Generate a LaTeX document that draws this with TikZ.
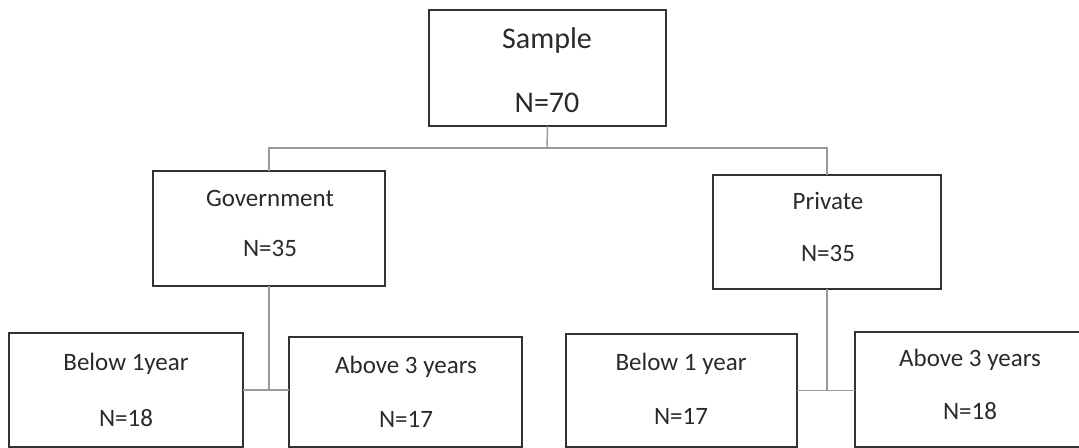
\documentclass[tikz,border=0pt]{standalone}
\usepackage{fontspec}
\setmainfont{Carlito}
\begin{document}
\begin{tikzpicture}[x=0.75pt,y=-0.75pt,
  box/.style={draw=boxcol,line width=1.6pt,inner sep=0pt,outer sep=0pt,anchor=north west,fill=white},
  conn/.style={draw=conncol,line width=1.1pt},
  big/.style={text=txtcol,inner sep=0pt,anchor=base,font=\fontsize{22.5}{27}\selectfont},
  lbl/.style={text=txtcol,inner sep=0pt,anchor=base,font=\fontsize{18.75}{22}\selectfont}]
\definecolor{boxcol}{HTML}{333333}
\definecolor{conncol}{HTML}{9A9A9A}
\definecolor{txtcol}{HTML}{2A2A2A}
\useasboundingbox (0,0) rectangle (1079,448);
\clip (0,0) rectangle (1079,448);
% boxes
\node[box,minimum width=177.75pt,minimum height=87pt] (sample) at (429,10) {};
\node[box,minimum width=174pt,minimum height=86.25pt] (gov) at (153,171) {};
\node[box,minimum width=171pt,minimum height=85.5pt] (priv) at (713,175) {};
\node[box,minimum width=175.5pt,minimum height=85.5pt] (lb1) at (9,333) {};
\node[box,minimum width=174.75pt,minimum height=82.5pt] (la3) at (289,337) {};
\node[box,minimum width=173.25pt,minimum height=84.75pt] (rb1) at (566,334) {};
\node[box,minimum width=176.25pt,minimum height=86.25pt] (ra3) at (855,332) {};
% connectors
\coordinate (j0) at (547,148);
\draw[conn] (sample.south) -- (j0);
\draw[conn] (gov.north) |- (j0) -| (priv.north);
\draw[conn] (gov.south) -- (gov.south |- lb1.east);
\draw[conn] (lb1.east) -- (la3.west |- lb1.east);
\draw[conn] (priv.south) -- (priv.south |- rb1.east);
\draw[conn] (rb1.east) -- (ra3.west |- rb1.east);
% texts
\node[big] (t1) at (547,49) {Sample};
\node[big] (t2) at (547,113) {N=70};
\node[lbl] (t3) at (270,207) {Government};
\node[lbl] (t4) at (270,257) {N=35};
\node[lbl] (t5) at (828,210) {Private};
\node[lbl] (t6) at (828,262) {N=35};
\node[lbl] (t7) at (126,371) {Below 1year};
\node[lbl] (t8) at (126,427) {N=18};
\node[lbl] (t9) at (406,374) {Above 3 years};
\node[lbl] (t10) at (406,428) {N=17};
\node[lbl] (t11) at (681,371) {Below 1 year};
\node[lbl] (t12) at (681,425) {N=17};
\node[lbl] (t13) at (970,367) {Above 3 years};
\node[lbl] (t14) at (970,420) {N=18};
\end{tikzpicture}
\end{document}
